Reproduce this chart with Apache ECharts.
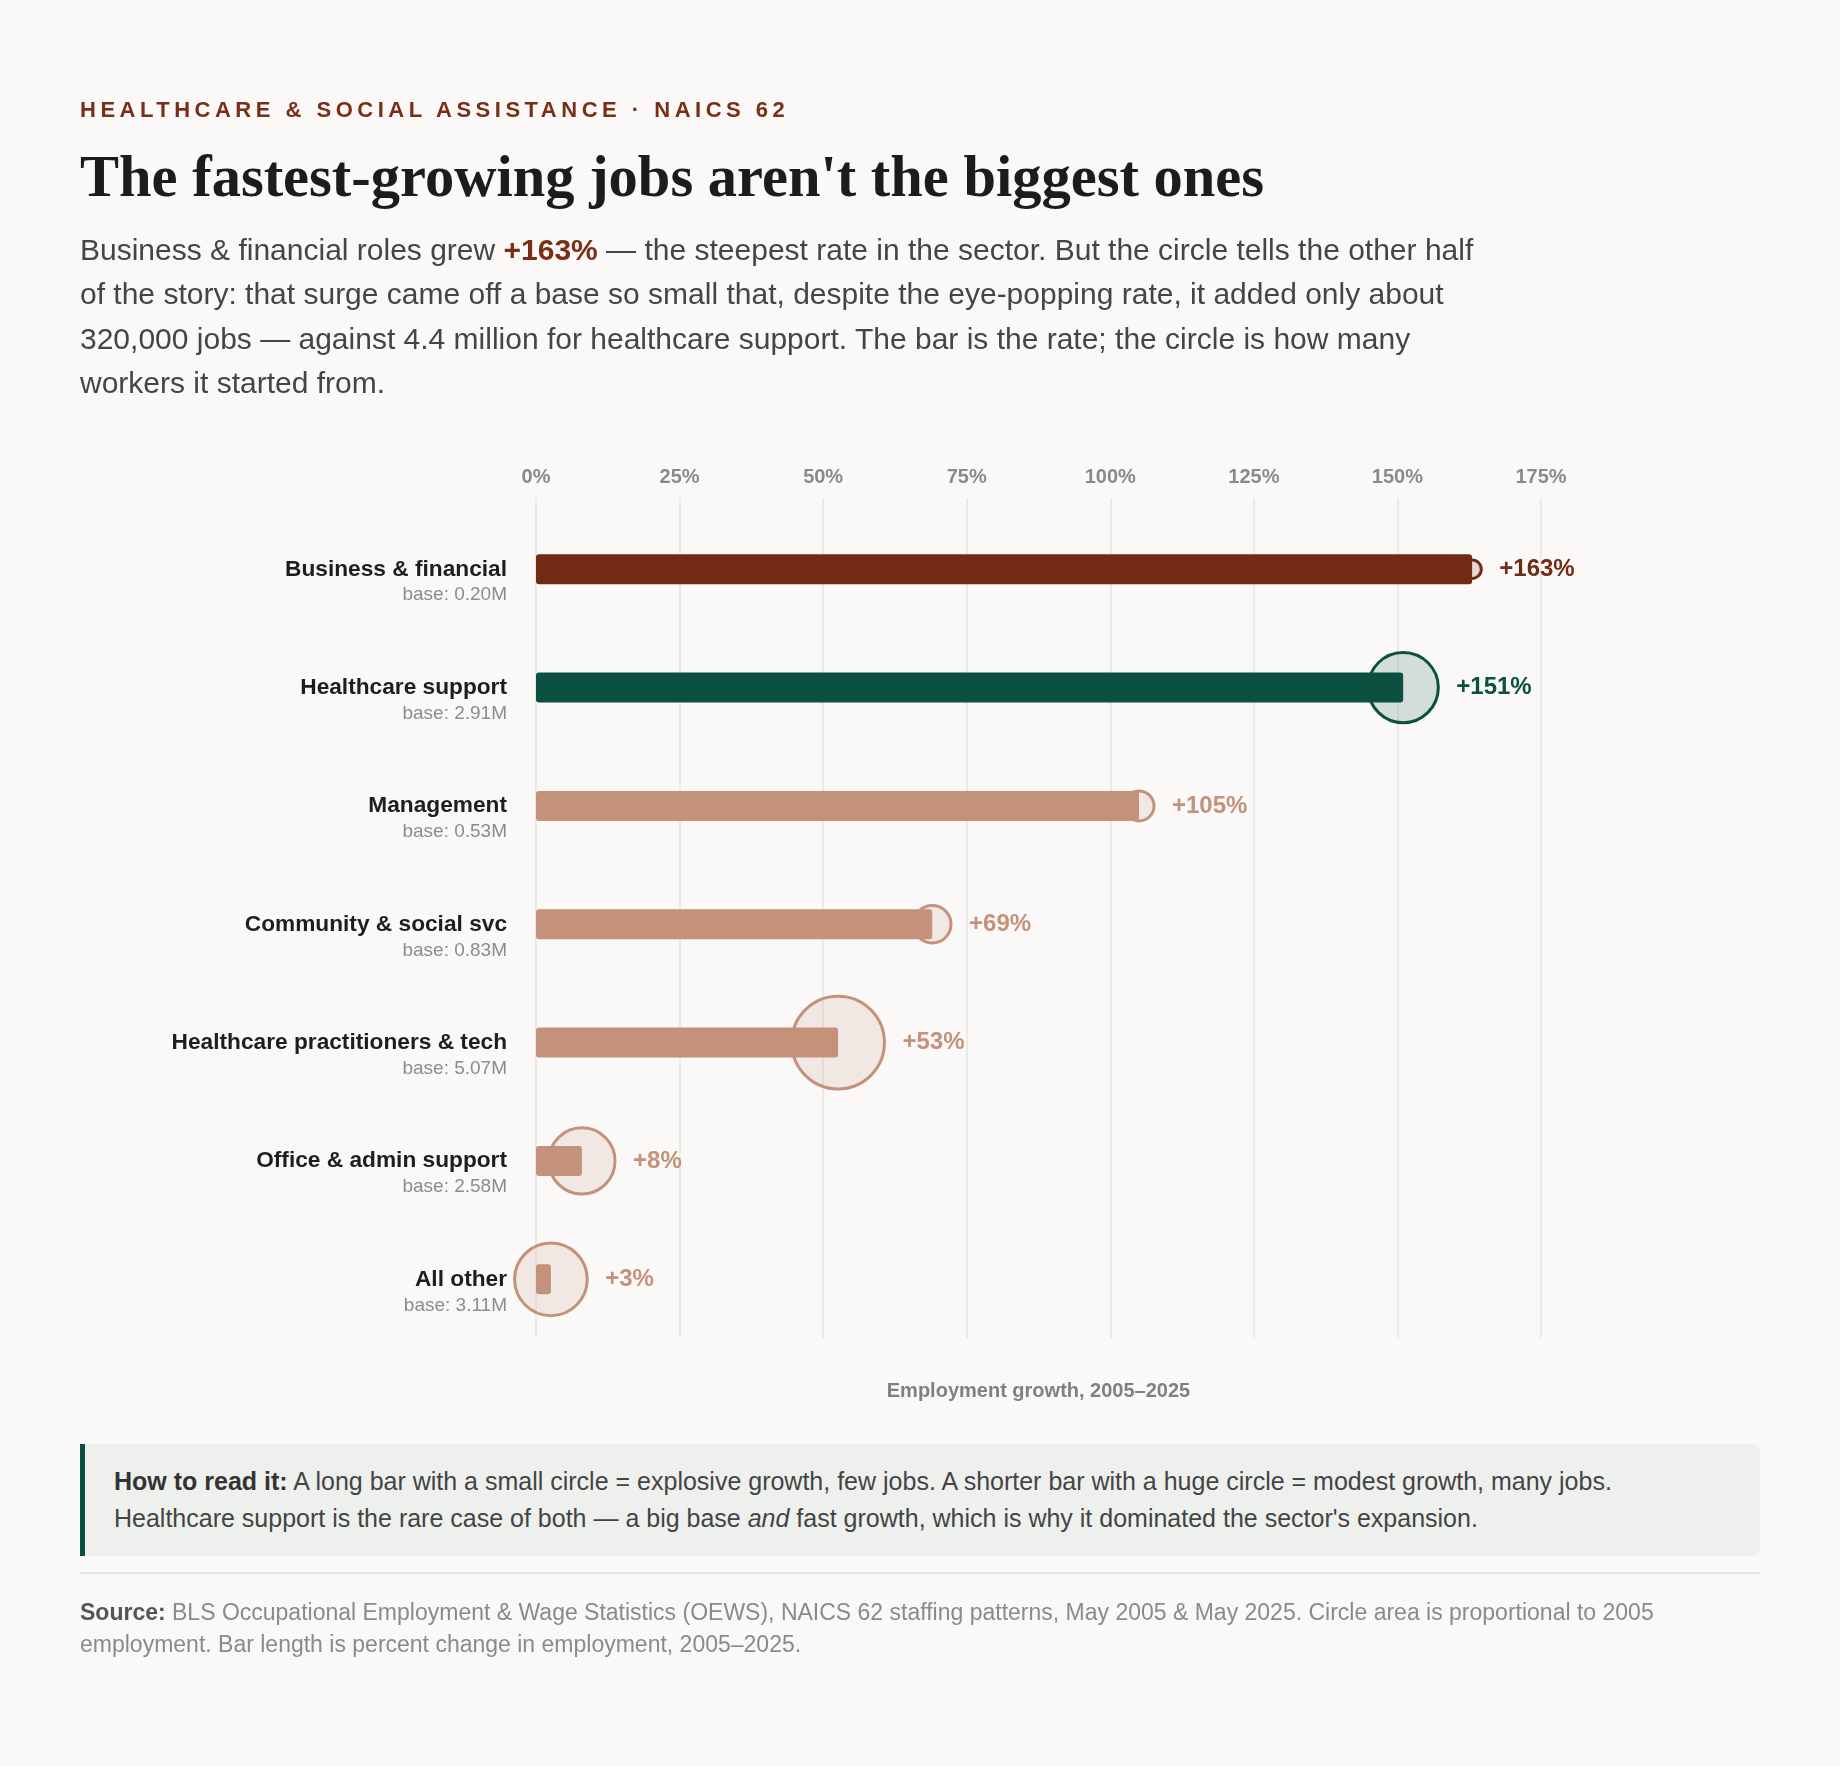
<!DOCTYPE html>
<html>
<head>
<meta charset="utf-8">
<title>The fastest-growing jobs aren't the biggest ones</title>
<script src="https://cdn.jsdelivr.net/npm/echarts@6/dist/echarts.min.js"></script>
<style>
  html, body { margin: 0; padding: 0; background: #faf9f7; }
  body { width: 1840px; height: 1766px; position: relative; overflow: hidden; font-family: "Liberation Sans", Arial, sans-serif; }
  #chart { position: absolute; left: 0; top: 0; width: 1840px; height: 1766px; z-index: 0; }
  .txt { position: absolute; z-index: 1; white-space: nowrap; }
  #kicker { left: 80px; top: 97px; font-size: 22px; line-height: 26px; font-weight: bold; letter-spacing: 4.5px; color: #7a2e18; }
  #title { left: 80px; top: 145px; font-family: "Liberation Serif", "Times New Roman", serif; font-size: 58.5px; line-height: 64px; font-weight: bold; color: #1c1c1c; }
  #dek { left: 80px; top: 227.8px; font-size: 30px; line-height: 44.5px; color: #454545; }
  #dek b { color: #7a2e18; }
  #note { position: absolute; left: 80px; top: 1444px; width: 1675px; height: 112px; background: #eef0ed; border-left: 5px solid #0b5040; border-radius: 0 8px 8px 0; z-index: 1; }
  #noteText { left: 114px; top: 1463px; font-size: 25px; line-height: 36.5px; color: #444; }
  #noteText b { color: #333; }
  #rule { position: absolute; left: 80px; top: 1572px; width: 1680px; height: 2px; background: #e6e4e0; z-index: 1; }
  #source { left: 80px; top: 1596px; font-size: 23px; line-height: 32px; color: #8a8a8a; }
  #source b { color: #555; }
</style>
</head>
<body>
<div id="chart"></div>
<div class="txt" id="kicker">HEALTHCARE &amp; SOCIAL ASSISTANCE · NAICS 62</div>
<div class="txt" id="title">The fastest-growing jobs aren't the biggest ones</div>
<div class="txt" id="dek">Business &amp; financial roles grew <b>+163%</b> — the steepest rate in the sector. But the circle tells the other half<br>of the story: that surge came off a base so small that, despite the eye-popping rate, it added only about<br>320,000 jobs — against 4.4 million for healthcare support. The bar is the rate; the circle is how many<br>workers it started from.</div>
<div id="note"></div>
<div class="txt" id="noteText"><b>How to read it:</b> A long bar with a small circle = explosive growth, few jobs. A shorter bar with a huge circle = modest growth, many jobs.<br>Healthcare support is the rare case of both — a big base <i>and</i> fast growth, which is why it dominated the sector's expansion.</div>
<div id="rule"></div>
<div class="txt" id="source"><b>Source:</b> BLS Occupational Employment &amp; Wage Statistics (OEWS), NAICS 62 staffing patterns, May 2005 &amp; May 2025. Circle area is proportional to 2005<br>employment. Bar length is percent change in employment, 2005–2025.</div>

<script>
// occupation groups, top to bottom
const categories = [
  'Business & financial',
  'Healthcare support',
  'Management',
  'Community & social svc',
  'Healthcare practitioners & tech',
  'Office & admin support',
  'All other'
];
// percent change in employment, 2005-2025
const growthPct = [163, 151, 105, 69, 52.6, 8, 2.6];
// 2005 employment, millions
const base2005 = [0.20, 2.91, 0.53, 0.83, 5.07, 2.58, 3.11];
// x axis ticks (percent)
const xMin = 0;
const xMax = 175;
const xStep = 25;

const FONT = '"Liberation Sans", Arial, sans-serif';
const TAN = '#c4927a';
const accent = {
  'Business & financial': '#722c15',
  'Healthcare support': '#0b5040'
};
const colorFor = (name) => accent[name] || TAN;

function tint(hex, a) {
  const n = parseInt(hex.slice(1), 16);
  return `rgba(${(n >> 16) & 255},${(n >> 8) & 255},${n & 255},${a})`;
}

// circle area ~ base employment
const R_PER_SQRT_M = 20.6;

function renderItem(params, api) {
  const idx = api.value(1);
  const name = categories[idx];
  const color = colorFor(name);
  const p0 = api.coord([0, idx]);
  const p1 = api.coord([api.value(0), idx]);
  const r = R_PER_SQRT_M * Math.sqrt(api.value(2));
  const barH = 30;
  return {
    type: 'group',
    children: [
      {
        type: 'rect',
        shape: { x: p0[0], y: p0[1] - barH / 2, width: p1[0] - p0[0], height: barH, r: 3 },
        style: { fill: color }
      },
      {
        type: 'circle',
        shape: { cx: p1[0], cy: p1[1], r: r },
        style: { fill: tint(color, 0.16), stroke: color, lineWidth: 3 }
      },
      {
        type: 'text',
        x: p1[0] + r + 18,
        y: p1[1],
        style: {
          text: '+' + Math.round(api.value(0)) + '%',
          fill: color,
          font: 'bold 24px ' + FONT,
          align: 'left', textAlign: 'left',
          verticalAlign: 'middle', textVerticalAlign: 'middle'
        }
      },
      {
        type: 'text',
        x: p0[0] - 29,
        y: p0[1],
        style: {
          text: name,
          fill: '#1e1e1e',
          font: 'bold 22.7px ' + FONT,
          align: 'right', textAlign: 'right',
          verticalAlign: 'middle', textVerticalAlign: 'middle'
        }
      },
      {
        type: 'text',
        x: p0[0] - 29,
        y: p0[1] + 26,
        style: {
          text: 'base: ' + api.value(2).toFixed(2) + 'M',
          fill: '#8c8c8c',
          font: '19px ' + FONT,
          align: 'right', textAlign: 'right',
          verticalAlign: 'middle', textVerticalAlign: 'middle'
        }
      }
    ]
  };
}

const chart = echarts.init(document.getElementById('chart'), null, { renderer: 'canvas' });
chart.setOption({
  backgroundColor: 'transparent',
  animation: false,
  grid: { left: 536, right: 299, top: 498, bottom: 428 },
  xAxis: {
    type: 'value',
    position: 'top',
    min: xMin,
    max: xMax,
    interval: xStep,
    axisLine: { show: false },
    axisTick: { show: false },
    axisLabel: {
      formatter: '{value}%',
      color: '#8a8a8a',
      fontWeight: 'bold',
      fontSize: 20,
      fontFamily: FONT,
      margin: 11
    },
    splitLine: { lineStyle: { color: '#e7e4e0', width: 1.5 } }
  },
  yAxis: {
    type: 'value',
    min: -0.602,
    max: 6.496,
    inverse: true,
    show: false
  },
  graphic: [
    {
      type: 'text',
      x: 1038.5,
      y: 1391,
      style: {
        text: 'Employment growth, 2005–2025',
        fill: '#808080',
        font: 'bold 20px ' + FONT,
        align: 'center', textAlign: 'center',
        verticalAlign: 'middle', textVerticalAlign: 'middle'
      }
    }
  ],
  series: [
    {
      type: 'custom',
      renderItem: renderItem,
      clip: false,
      encode: { x: 0, y: 1 },
      data: categories.map((c, i) => [growthPct[i], i, base2005[i]])
    }
  ]
});
</script>
</body>
</html>
